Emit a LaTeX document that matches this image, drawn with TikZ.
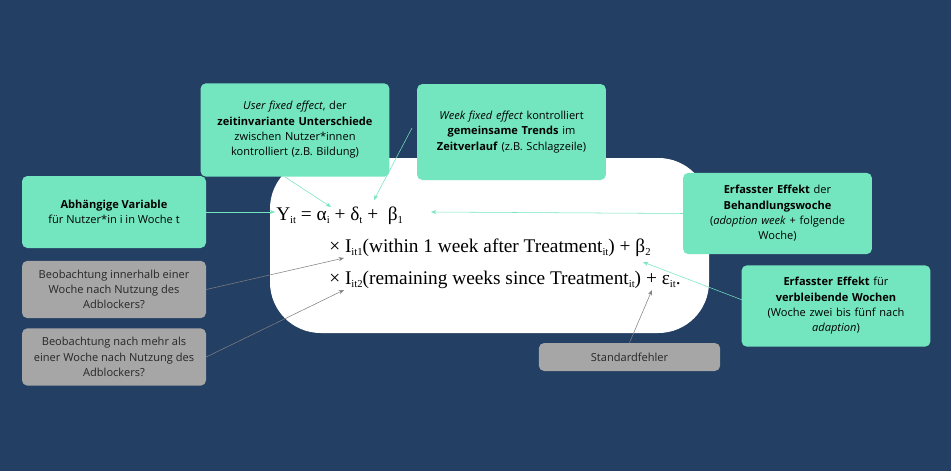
\documentclass[tikz,border=0pt]{standalone}
\usepackage{fontspec}
\setmainfont{Open Sans}
\newfontfamily\eqfont{Liberation Serif}
\usetikzlibrary{arrows.meta,positioning}
\definecolor{bgblue}{HTML}{233F63}
\definecolor{mint}{HTML}{73E6C0}
\definecolor{greybox}{HTML}{A6A6A6}
\newcommand\lowsub[1]{\raisebox{-0.45ex}{\footnotesize #1}}
\tikzset{
  notebox/.style = {fill=mint, rounded corners=4pt, align=center, font=\fontsize{8.3}{11.5}\selectfont, text=black},
  obsbox/.style = {fill=greybox, rounded corners=4pt, align=center, font=\fontsize{8.3}{11.5}\selectfont, text=black!85},
  eqline/.style = {anchor=base west, inner sep=0pt, font=\eqfont\fontsize{14.5}{16}\selectfont},
  greenarrow/.style = {-{Stealth[length=4pt,width=3pt]}, mint, thin},
  greyarrow/.style = {-{Stealth[length=4pt,width=3pt]}, black!50, thin}
}
\begin{document}
\begin{tikzpicture}[x=0.75pt,y=-0.75pt]
\fill[bgblue] (0,0) rectangle (951,471);
\useasboundingbox (0,0) rectangle (951,471);

% white panel
\fill[white, rounded corners=38pt] (270,158) rectangle (709,333);

% equation
\node[eqline] (line1) at (276,220) {Y\lowsub{it} = α\lowsub{i} + δ\lowsub{t} + \ β\lowsub{1}};
\node[eqline] (line2) at (329,252) {× I\lowsub{it1}(within 1 week after Treatment\lowsub{it}) + β\lowsub{2}};
\node[eqline] (line3) at (329,284) {× I\lowsub{it2}(remaining weeks since Treatment\lowsub{it}) + ε\lowsub{it}.};
\coordinate (yit) at (275,212);
\coordinate (alpha) at (331,207);
\coordinate (delta) at (374,200);
\coordinate (beta1) at (431,212);
\coordinate (beta2) at (643,262);
\coordinate (itone) at (344,258);
\coordinate (ittwo) at (344,290);
\coordinate (eps) at (652,290);
\coordinate (ufoot) at (285,177);
\coordinate (wfoot) at (412,128);
\coordinate (rfoot) at (745,301);

% boxes
\node[notebox, minimum width=138pt, minimum height=54pt] (dependent) at (114,212)
  {\textbf{Abhängige Variable}\\für Nutzer*in i in Woche t};
\node[notebox, minimum width=141pt, minimum height=70pt, text width=135pt] (userfe) at (295,130)
  {\textit{User fixed effect}, der\\\textbf{zeitinvariante Unterschiede}\\zwischen Nutzer*innen\\kontrolliert (z.B. Bildung)};
\node[notebox, minimum width=137pt, minimum height=72pt, text width=135pt] (weekfe) at (511.5,132)
  {\textit{Week fixed effect} kontrolliert\\\textbf{gemeinsame Trends} im\\\textbf{Zeitverlauf} (z.B. Schlagzeile)};
\node[notebox, minimum width=137pt, minimum height=61pt, text width=135pt] (adoptwk) at (777.5,213.5)
  {\textbf{Erfasster Effekt} der\\\textbf{Behandlungswoche}\\(\textit{adoption week} + folgende\\Woche)};
\node[notebox, minimum width=137pt, minimum height=61pt, text width=135pt] (remainwk) at (836,306)
  {\textbf{Erfasster Effekt} für\\\textbf{verbleibende Wochen}\\(Woche zwei bis fünf nach\\\textit{adaption})};
\node[obsbox, minimum width=138pt, minimum height=43pt] (within) at (114,289.5)
  {Beobachtung innerhalb einer\\Woche nach Nutzung des\\Adblockers?};
\node[obsbox, minimum width=138pt, minimum height=43pt] (beyond) at (114,357)
  {Beobachtung nach mehr als\\einer Woche nach Nutzung des\\Adblockers?};
\node[obsbox, minimum width=136pt, minimum height=21pt] (stderr) at (629.5,357)
  {Standardfehler};

% connectors
\draw[greenarrow] (dependent.east) -- (yit);
\draw[greenarrow] (ufoot) -- (alpha);
\draw[greenarrow] (wfoot) -- (delta);
\draw[greenarrow] (adoptwk.west) -- (beta1);
\draw[greenarrow] (rfoot) -- (beta2);
\draw[greyarrow] (within.east) -- (itone);
\draw[greyarrow] (beyond.east) -- (ittwo);
\draw[greyarrow] (stderr.north) -- (eps);
\end{tikzpicture}
\end{document}
